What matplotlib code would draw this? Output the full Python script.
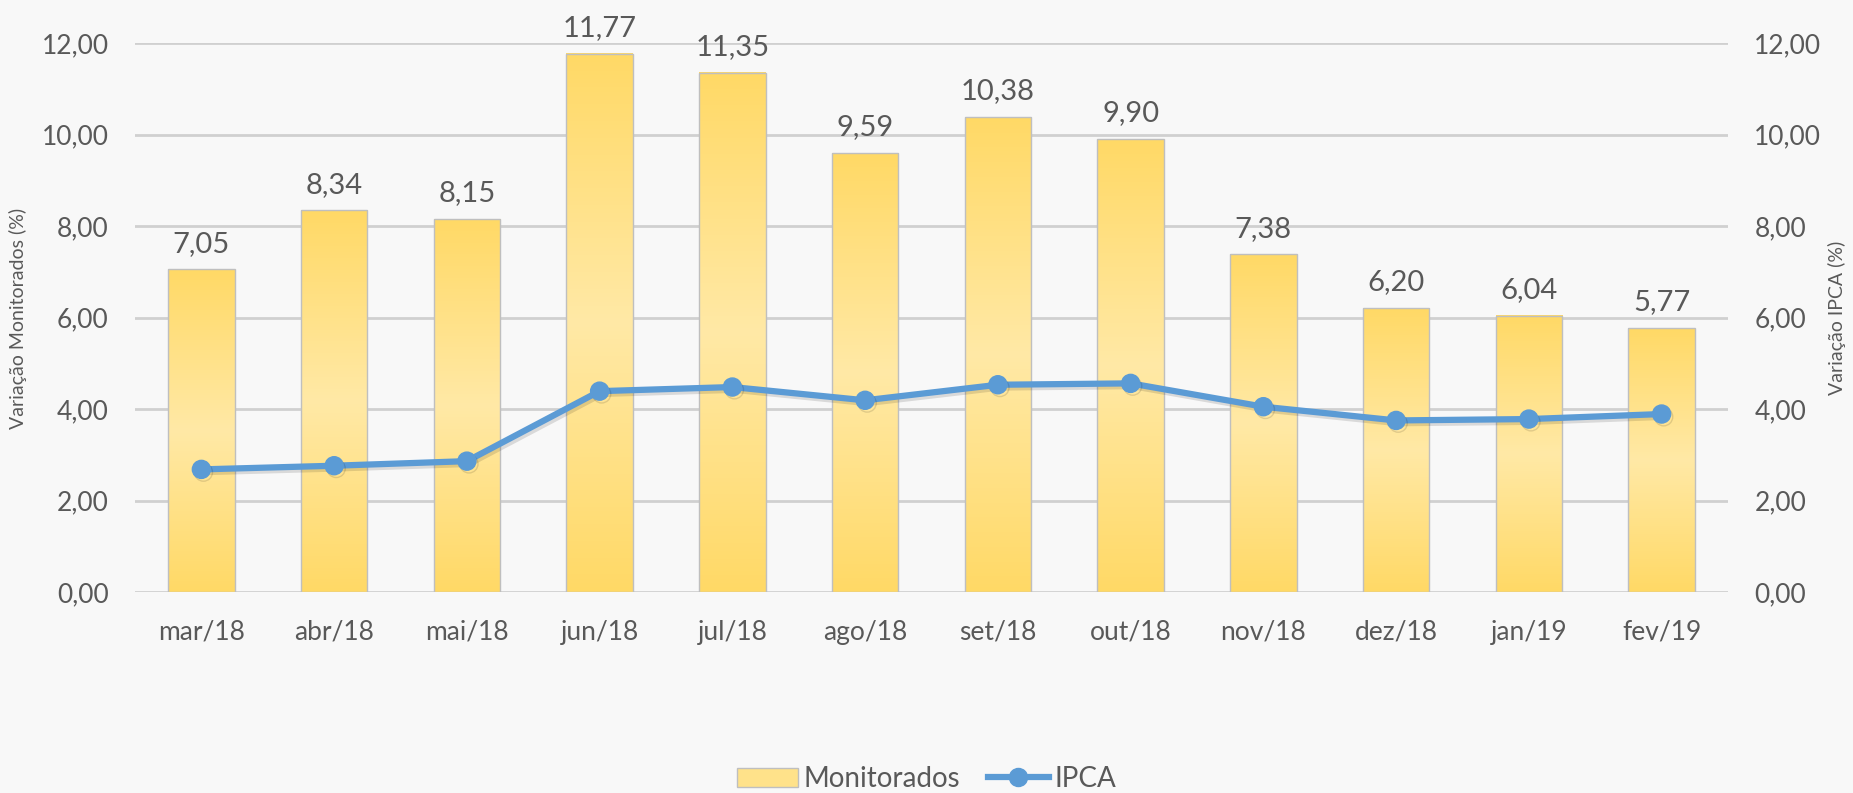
import numpy as np
import matplotlib
matplotlib.use("agg")
import matplotlib.pyplot as plt
import matplotlib.patheffects as pe
from matplotlib.lines import Line2D
from matplotlib.patches import Patch

meses = ["mar/18", "abr/18", "mai/18", "jun/18", "jul/18", "ago/18",
         "set/18", "out/18", "nov/18", "dez/18", "jan/19", "fev/19"]
monitorados = [7.05, 8.34, 8.15, 11.77, 11.35, 9.59, 10.38, 9.90, 7.38, 6.20, 6.04, 5.77]
ipca = [2.68, 2.76, 2.86, 4.39, 4.48, 4.19, 4.53, 4.56, 4.05, 3.75, 3.78, 3.89]
yticks = [0, 2, 4, 6, 8, 10, 12]

plt.rcParams['font.family'] = ['Lato', 'DejaVu Sans']
txt = '#595959'
bg = '#F8F8F8'

fig = plt.figure(figsize=(18.53, 7.93), dpi=100, facecolor=bg)
ax = fig.add_axes([135 / 1853, 1 - 592 / 793, (1728 - 135) / 1853, (592 - 43) / 793])
ax.set_facecolor(bg)
ax2 = ax.twinx()

x = np.arange(len(meses))
w = 0.5
bars = ax.bar(x, monitorados, w, color='none', edgecolor='#BFBFBF', linewidth=1.0, zorder=3)

# gradiente vertical: mais escuro em cima e embaixo, mais claro no meio
t = np.linspace(0, 1, 256)
c_dark = np.array([255, 217, 102]) / 255.
c_light = np.array([255, 233, 166]) / 255.
mix = 1 - np.abs(t - 0.5) * 2
grad = c_dark[None, :] * (1 - mix[:, None]) + c_light[None, :] * mix[:, None]
grad = grad[:, None, :]
for xi, v in zip(x, monitorados):
    ax.imshow(grad, extent=(xi - w / 2, xi + w / 2, 0, v), aspect='auto',
              origin='lower', zorder=2)
    ax.text(xi, v + 0.28, f"{v:.2f}".replace('.', ','), ha='center', va='bottom',
            fontsize=21, color=txt, zorder=5)

ax.set_xlim(-0.5, len(meses) - 0.5)
ax.set_ylim(0, 12)
ax2.set_ylim(0, 12)
ax.set_yticks(yticks)
ax2.set_yticks(yticks)
fmt = [f"{v:.2f}".replace('.', ',') for v in yticks]
ax.set_yticklabels(fmt)
ax2.set_yticklabels(fmt)
ax.set_xticks(x)
ax.set_xticklabels(meses)

ax.grid(axis='y', color='#D0D0D0', linewidth=2, zorder=0)
ax.set_axisbelow(True)
for a in (ax, ax2):
    for s in a.spines.values():
        s.set_visible(False)
    a.tick_params(length=0, colors=txt, labelsize=19)
ax.tick_params(axis='y', pad=19)
ax2.tick_params(axis='y', pad=19)
ax.tick_params(axis='x', pad=20)

fig.text(18 / 1853, 1 - 318 / 793, "Variação Monitorados (%)", rotation=90,
         ha='center', va='center', fontsize=14, color=txt)
fig.text(1837 / 1853, 1 - 318 / 793, "Variação IPCA (%)", rotation=90,
         ha='center', va='center', fontsize=14, color=txt)

ax2.plot(x, ipca, color='#5B9BD5', linewidth=4.5, marker='o', markersize=13,
         zorder=6, solid_capstyle='round',
         path_effects=[pe.SimpleLineShadow(offset=(1.5, -2), alpha=0.12), pe.Normal()])

handles = [Patch(facecolor='#FFE28A', edgecolor='#BFBFBF'),
           Line2D([], [], color='#5B9BD5', linewidth=4.5, marker='o', markersize=13)]
fig.legend(handles, ["Monitorados", "IPCA"], loc='center', bbox_to_anchor=(0.5, 1 - 779 / 793),
           ncol=2, frameon=False, fontsize=20, labelcolor=txt, handlelength=2.2,
           handletextpad=0.2, columnspacing=1.0)

fig.savefig("out.png", dpi=100, facecolor=bg)
